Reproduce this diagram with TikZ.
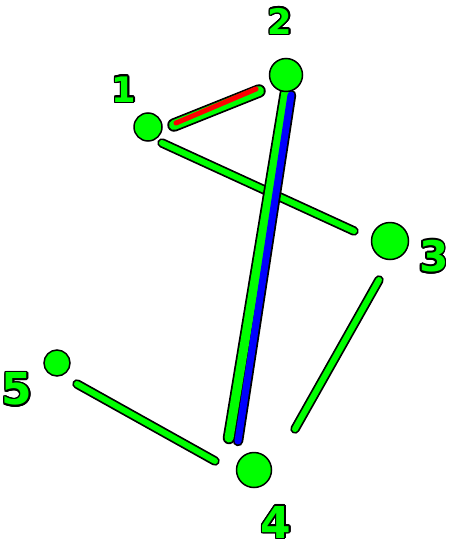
\documentclass[tikz,border=0pt]{standalone}
\usepackage{fontspec}
\setmainfont{DejaVu Sans}
\usepackage[copies]{contour}
\usetikzlibrary{backgrounds}
\definecolor{ink}{RGB}{0,255,0}
\definecolor{inkblue}{RGB}{0,0,255}
\definecolor{inkred}{RGB}{255,0,0}
\contourlength{0.9pt}

\begin{document}
\begin{tikzpicture}[x=0.02cm, y=-0.02cm,
  spot/.style={circle, draw=black, line width=0.85pt, fill=ink,
    inner sep=0pt, minimum size=#1*0.02cm},
  stroke/.style={draw=ink, line width=#1*0.02cm, line cap=round,
    preaction={draw=black, line width=#1*0.02cm+0.07cm, line cap=round}},
  stroke/.default=6,
  core/.style={draw=#1, line cap=round},
  digit/.style={text=ink, inner sep=0pt,
    font=\bfseries\fontsize{#1}{#1}\selectfont}
]
\useasboundingbox (0,0) rectangle (450,544);

% vertices
\node[spot=28] (n1) at (148,127) {};
\node[spot=33] (n2) at (286,75) {};
\node[spot=37] (n3) at (390,241) {};
\node[spot=35] (n4) at (254,470) {};
\node[spot=26] (n5) at (57,363) {};

% labels
\node[digit=20] (l1) at (124,90) {\contour{black}{1}};
\node[digit=20] (l2) at (280,22) {\contour{black}{2}};
\node[digit=24] (l3) at (434,257) {\contour{black}{3}};
\node[digit=25] (l4) at (276,523) {\contour{black}{4}};
\node[digit=25] (l5) at (17,390) {\contour{black}{5}};

% edges
\begin{scope}[on background layer]
\draw[stroke=10] ([shift={(26,-2)}]n1.center) -- ([shift={(-27,16)}]n2.center);
\draw[core=inkred, line width=0.1cm] ([shift={(28,-4)}]n1.center) -- ([shift={(-30,14)}]n2.center);
\draw[stroke] ([shift={(14,16)}]n1.center) -- ([shift={(-36,-10)}]n3.center);
% 2 -- 4, green and blue side by side
\draw[black, line width=0.25cm, line cap=round] ([shift={(0,17)}]n2.center) -- ([shift={(-25,-32)}]n4.center);
\draw[black, line width=0.21cm, line cap=round] ([shift={(5,20)}]n2.center) -- ([shift={(-16,-29)}]n4.center);
\draw[core=ink, line width=0.18cm] ([shift={(0,17)}]n2.center) -- ([shift={(-25,-32)}]n4.center);
\draw[core=inkblue, line width=0.14cm] ([shift={(5,20)}]n2.center) -- ([shift={(-16,-29)}]n4.center);
\draw[stroke] ([shift={(-11,39)}]n3.center) -- ([shift={(41,-41)}]n4.center);
\draw[stroke] ([shift={(20,21)}]n5.center) -- ([shift={(-39,-9)}]n4.center);
\end{scope}
\end{tikzpicture}
\end{document}
